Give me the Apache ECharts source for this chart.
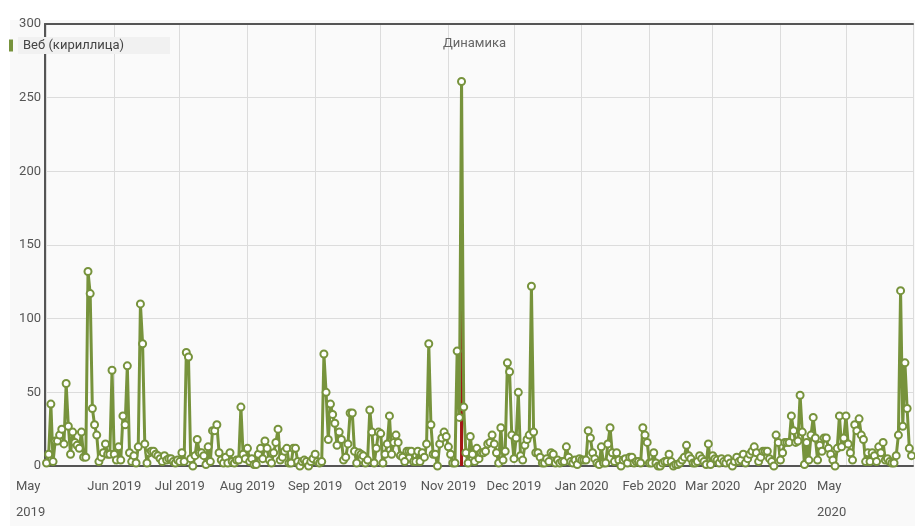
<!DOCTYPE html>
<html>
<head>
<meta charset="utf-8">
<script src="https://cdn.jsdelivr.net/npm/echarts@6/dist/echarts.min.js"></script>
<style>
html,body{margin:0;padding:0;background:#fff;}
#c{width:915px;height:526px;}
</style>
</head>
<body>
<div id="c"></div>
<script>
// Daily values, May 1 2019 .. May 31 2020, one array per month
const may2019 = [2,8,42,3,17,17,21,25,15,56,27,8,23,16,14,12,23,6,6,132,117,39,28,21,3,6,9,15,8,8,65];
const jun2019 = [8,4,13,4,34,28,68,9,3,7,2,13,110,83,15,2,9,10,10,8,7,5,3,7,4,5,5,3,2,4];
const jul2019 = [3,9,3,77,74,5,0,7,18,9,9,7,1,13,3,24,24,28,9,4,2,6,2,9,3,2,4,4,40,8,5];
const aug2019 = [12,3,5,1,1,8,12,5,17,12,4,2,9,16,25,4,6,10,12,2,2,12,12,3,0,3,4,3,0,3,5];
const sep2019 = [8,3,2,3,76,50,18,42,35,29,14,23,18,4,6,15,36,36,10,2,9,8,7,2,4,38,23,2,12,23];
const oct2019 = [22,2,8,15,34,8,16,21,16,7,6,3,10,10,10,3,3,10,3,9,6,15,83,28,8,8,0,15,19,23,20];
const nov2019 = [13,8,2,2,78,33,261,40,9,2,20,8,3,12,5,9,9,10,15,16,21,15,9,2,26,4,10,70,64,21];
const dec2019 = [5,19,50,7,4,14,18,21,122,23,9,9,6,2,2,5,3,9,8,2,4,2,3,3,13,6,3,2,4,1,5];
const jan2020 = [4,4,4,24,19,9,5,2,1,13,2,2,15,26,9,3,9,4,0,4,5,2,6,6,2,3,3,2,26,21,16];
const feb2020 = [2,2,9,2,0,0,2,3,3,8,3,0,1,1,2,4,6,14,7,5,2,2,3,7,5,3,1,15,1];
const mar2020 = [7,5,4,2,5,3,2,5,2,0,3,6,3,4,8,2,5,8,10,13,9,3,6,10,10,10,5,3,0,21,16];
const apr2020 = [4,9,16,16,16,34,24,16,17,48,23,1,16,4,21,33,19,4,14,10,19,19,12,8,4,0,12,34,13,19];
const may2020 = [34,15,9,4,28,24,32,21,18,3,9,3,9,7,3,13,9,16,4,5,3,2,2,7,21,119,27,70,39,12,7];

const months = [may2019,jun2019,jul2019,aug2019,sep2019,oct2019,nov2019,dec2019,jan2020,feb2020,mar2020,apr2020,may2020];
const firstDay = [2019, 4, 1];          // year, month index, day
const markerDay = [2019, 10, 7];        // red marker date
const markerValue = [261];
const monthNames = ['Jan','Feb','Mar','Apr','May','Jun','Jul','Aug','Sep','Oct','Nov','Dec'];
const seriesName = 'Веб (кириллица)';
const titleText = 'Динамика';

const data = [];
let idx = 0;
months.forEach(arr => arr.forEach(v => {
  const d = new Date(firstDay[0], firstDay[1], firstDay[2] + idx);
  data.push([d.getTime(), v]);
  idx++;
}));
const markerData = [[new Date(markerDay[0], markerDay[1], markerDay[2]).getTime(), markerValue[0]]];

const chart = echarts.init(document.getElementById('c'), null, {renderer:'canvas'});
const FONT = 'Roboto, "Noto Sans", sans-serif';
chart.setOption({
  animation: false,
  backgroundColor: '#ffffff',
  graphic: [
    {type:'rect', shape:{x:10, y:20, width:905, height:506}, style:{fill:'#f9f9f9'}, z:-10, silent:true}
  ],
  title: {
    text: titleText, left: 443, top: 37, padding: 0,
    textStyle: {fontFamily: FONT, fontSize: 13, fontWeight: 'normal', color: '#666'}
  },
  legend: {
    data: [seriesName], left: 9, top: 37, padding: 0,
    icon: 'rect', itemWidth: 4, itemHeight: 12, itemGap: 5,
    itemStyle: {color: '#77933c'},
    textStyle: {fontFamily: FONT, fontSize: 13, color: '#444', backgroundColor: '#f1f1f1',
      width: 142, padding: [2, 5, 2, 5]}
  },
  grid: {left: 45, right: 2, top: 24, bottom: 52, show: true, backgroundColor: '#fafafa', borderWidth: 0},
  xAxis: [{
    type: 'time',
    min: new Date(2019, 4, 1).getTime(),
    max: new Date(2020, 4, 31).getTime(),
    minInterval: 28 * 86400000,
    maxInterval: 31 * 86400000,
    axisLine: {show: true, lineStyle: {color: '#555', width: 2}},
    axisTick: {show: false},
    splitLine: {show: true, lineStyle: {color: '#dcdcdc', width: 1}},
    axisLabel: {
      interval: 0, hideOverlap: false, showMinLabel: true, showMaxLabel: false,
      fontFamily: FONT, fontSize: 13, color: '#555', margin: 8, lineHeight: 26,
      formatter: function (val) {
        const d = new Date(val + 5 * 86400000);
        const m = d.getMonth();
        if (m === 4) return '{m|' + monthNames[m] + '}\n{m|' + d.getFullYear() + '}';
        return monthNames[m] + ' ' + d.getFullYear();
      },
      rich: {m: {fontFamily: FONT, fontSize: 13, color: '#555', lineHeight: 26, width: 58, align: 'left'}}
    }
  }, {
    type: 'value', position: 'top', min: 0, max: 1,
    axisLine: {show: true, onZero: false, lineStyle: {color: '#555', width: 2}},
    axisTick: {show: false}, axisLabel: {show: false}, splitLine: {show: false}
  }],
  yAxis: {
    type: 'value', min: 0, max: 300, interval: 50,
    axisLine: {show: true, lineStyle: {color: '#555', width: 2}},
    axisTick: {show: false},
    splitLine: {show: true, lineStyle: {color: '#dcdcdc', width: 1}},
    axisLabel: {fontFamily: FONT, fontSize: 13, color: '#555', margin: 4}
  },
  series: [{
    name: 'marker', type: 'bar', data: markerData, barWidth: 3, z: 1,
    itemStyle: {color: '#a31515'}, silent: true
  }, {
    name: seriesName, type: 'line', data: data, z: 3,
    symbol: 'emptyCircle', symbolSize: 7, showAllSymbol: true,
    lineStyle: {color: '#77933c', width: 3},
    itemStyle: {color: '#77933c', borderWidth: 2}
  }]
});
</script>
</body>
</html>
